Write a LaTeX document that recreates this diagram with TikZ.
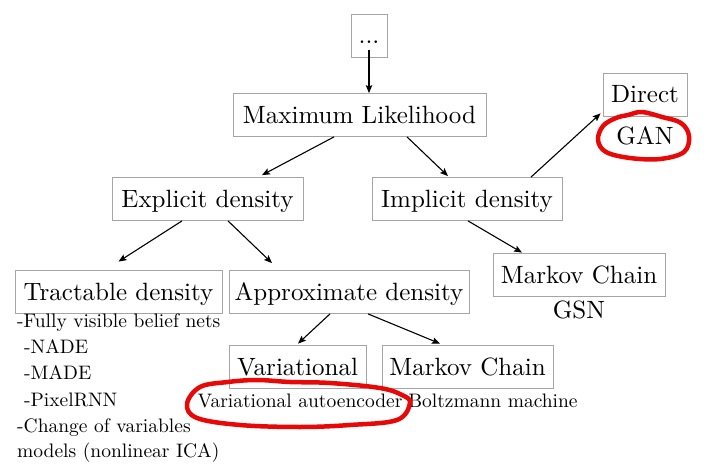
\documentclass[tikz,border=0pt]{standalone}
\usepackage{fontspec}
\setmainfont{lmroman10-regular}[Extension=.otf]
\usetikzlibrary{arrows.meta}
\definecolor{boxgray}{RGB}{165,165,165}
\definecolor{marker}{RGB}{232,8,8}
\newcommand{\bigsz}{\fontsize{25}{30}\selectfont}
\newcommand{\smsz}{\fontsize{19.5}{24}\selectfont}
\tikzset{
  box/.style={draw=boxgray, line width=0.8pt, font=\bigsz, inner xsep=0pt, inner ysep=0pt, text height=30pt, text depth=13pt},
  conn/.style={line width=1.1pt, -{Stealth[length=8pt,width=6.5pt,inset=1.5pt]}},
  small/.style={font=\smsz, inner sep=0pt, anchor=base west},
  big/.style={font=\bigsz, inner sep=0pt, anchor=base},
  loop/.style={draw=marker, line width=4.5pt, line cap=round, line join=round}
}
\begin{document}
\begin{tikzpicture}[x=1pt,y=-1pt]
\useasboundingbox (0,0) rectangle (720,465);
% boxes
\node[box, minimum width=36pt] (dots) at (369,35.5) {...};
\node[box, minimum width=253pt] (ml) at (359.5,115) {Maximum Likelihood};
\node[box, minimum width=191pt] (exp) at (207.5,199) {Explicit density};
\node[box, minimum width=190pt] (imp) at (467,199) {Implicit density};
\node[box, minimum width=84pt] (dir) at (645,94.5) {Direct};
\node[box, minimum width=207pt] (tra) at (118.5,291.5) {Tractable density};
\node[box, minimum width=240pt] (app) at (349,292) {Approximate density};
\node[box, minimum width=172pt] (mcr) at (579,274.5) {Markov Chain};
\node[box, minimum width=137pt] (var) at (297.5,366.5) {Variational};
\node[box, minimum width=171pt] (mcl) at (467.5,366.5) {Markov Chain};
% plain texts
\node[big] (gan) at (645,145) {GAN};
\node[big] (gsn) at (579,318) {GSN};
\node[small, anchor=base] (vae) at (300,407) {Variational autoencoder};
\node[small, anchor=base] (bm) at (493,407) {Boltzmann machine};
\node[small] (t1) at (17,327) {-Fully visible belief nets};
\node[small] (t2) at (24,353) {-NADE};
\node[small] (t3) at (24,379) {-MADE};
\node[small] (t4) at (24,406) {-PixelRNN};
\node[small] (t5) at (17,432) {-Change of variables};
\node[small] (t6) at (17,457) {models (nonlinear ICA)};
% connectors
\draw[conn] ([yshift=-14.5pt]dots.center) -- ([xshift=9.5pt]ml.north);
\draw[conn] ([xshift=-25.5pt]ml.south) -- ([xshift=54.5pt,yshift=2pt]exp.north);
\draw[conn] ([xshift=47.5pt]ml.south) -- ([xshift=-19pt,yshift=1pt]imp.north);
\draw[conn] ([xshift=-25.5pt]exp.south) -- ([yshift=8pt]tra.north);
\draw[conn] ([xshift=20.5pt]exp.south) -- ([xshift=-77pt,yshift=7pt]app.north);
\draw[conn] ([xshift=1pt]imp.south) -- ([xshift=-57pt]mcr.north);
\draw[conn] ([xshift=64pt]imp.north) -- ([xshift=-2pt,yshift=3pt]dir.south west);
\draw[conn] ([xshift=-19pt]app.south) -- ([xshift=0.5pt,yshift=1pt]var.north);
\draw[conn] ([xshift=19pt]app.south) -- ([xshift=-27.5pt,yshift=1pt]mcl.north);
% red hand-drawn marks
\draw[loop] plot[smooth cycle, tension=0.6] coordinates {(628,115) (642,112) (662,117) (681,123) (689,136) (684,152) (660,159) (630,158) (606,152) (598,140) (603,126) (616,118)};
\draw[loop] plot[smooth cycle, tension=0.6] coordinates {(200,387) (228,382) (257,380) (290,382) (330,383) (380,388) (402,395) (410,403) (397,420) (350,425) (300,427) (240,425) (197,418) (187,404)};
\end{tikzpicture}
\end{document}
